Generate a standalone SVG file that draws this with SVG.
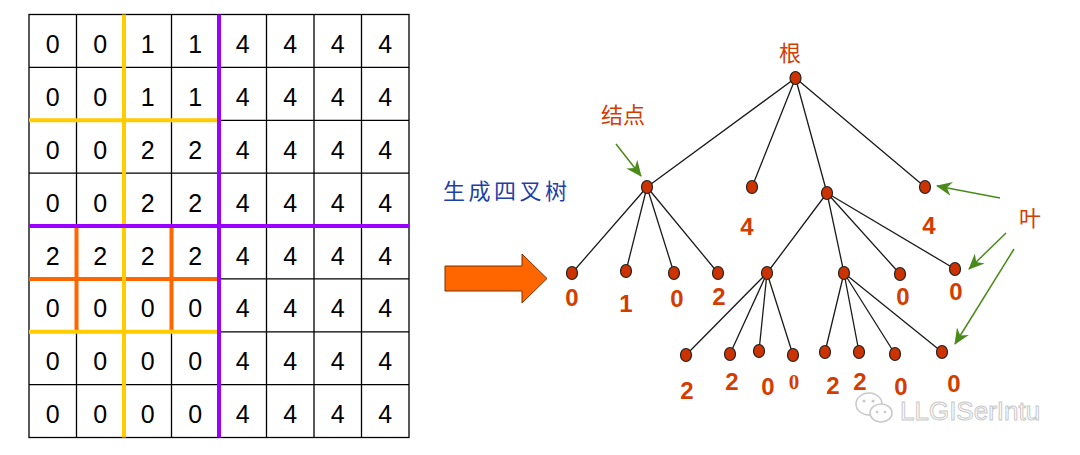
<svg xmlns="http://www.w3.org/2000/svg" width="1080" height="455" viewBox="0 0 1080 455">
<style>
.g{stroke:#000;stroke-width:1.3;fill:none}
.gt{font-family:"Liberation Sans",Arial,sans-serif;font-size:25px;fill:#000;text-anchor:middle}
.ye{stroke:#FFCC00;stroke-width:4}
.pu{stroke:#9900FF;stroke-width:4}
.or{stroke:#FF6600;stroke-width:4}
.nd{fill:#CC3300;stroke:#222;stroke-width:1.2}
.ed{stroke:#1a1a1a;stroke-width:1.3;fill:none}
.num{font-family:"Liberation Sans",Arial,sans-serif;font-weight:bold;font-size:24px;fill:#D43C00;text-anchor:middle}
.cn{font-family:"Noto Sans CJK SC",sans-serif;font-size:22px;fill:#D43C00;text-anchor:middle}
.ga{stroke:#4A8A1A;stroke-width:1.5;fill:none;marker-end:url(#gh)}
</style>
<defs>
<marker id="gh" markerUnits="userSpaceOnUse" markerWidth="18" markerHeight="16" refX="15" refY="7" orient="auto" viewBox="0 0 18 14">
<path d="M0,0 L16,7 L0,14 L5,7 z" fill="#4A8A1A"/>
</marker>
</defs>
<rect width="1080" height="455" fill="#fff"/>
<g id="grid">
<rect class="g" x="29" y="14.5" width="380" height="423"/>
<path class="g" d="M76.5,14.5V437.5M124,14.5V437.5M171.5,14.5V437.5M219,14.5V437.5M266.5,14.5V437.5M314,14.5V437.5M361.5,14.5V437.5M29,67.4H409M29,120.3H409M29,173.1H409M29,226H409M29,278.9H409M29,331.8H409M29,384.6H409"/>
<g class="gt">
<text x="52.75" y="53">0</text><text x="100.25" y="53">0</text><text x="147.75" y="53">1</text><text x="195.25" y="53">1</text><text x="242.75" y="53">4</text><text x="290.25" y="53">4</text><text x="337.75" y="53">4</text><text x="385.25" y="53">4</text>
<text x="52.75" y="105.9">0</text><text x="100.25" y="105.9">0</text><text x="147.75" y="105.9">1</text><text x="195.25" y="105.9">1</text><text x="242.75" y="105.9">4</text><text x="290.25" y="105.9">4</text><text x="337.75" y="105.9">4</text><text x="385.25" y="105.9">4</text>
<text x="52.75" y="158.8">0</text><text x="100.25" y="158.8">0</text><text x="147.75" y="158.8">2</text><text x="195.25" y="158.8">2</text><text x="242.75" y="158.8">4</text><text x="290.25" y="158.8">4</text><text x="337.75" y="158.8">4</text><text x="385.25" y="158.8">4</text>
<text x="52.75" y="211.6">0</text><text x="100.25" y="211.6">0</text><text x="147.75" y="211.6">2</text><text x="195.25" y="211.6">2</text><text x="242.75" y="211.6">4</text><text x="290.25" y="211.6">4</text><text x="337.75" y="211.6">4</text><text x="385.25" y="211.6">4</text>
<text x="52.75" y="264.5">2</text><text x="100.25" y="264.5">2</text><text x="147.75" y="264.5">2</text><text x="195.25" y="264.5">2</text><text x="242.75" y="264.5">4</text><text x="290.25" y="264.5">4</text><text x="337.75" y="264.5">4</text><text x="385.25" y="264.5">4</text>
<text x="52.75" y="317.4">0</text><text x="100.25" y="317.4">0</text><text x="147.75" y="317.4">0</text><text x="195.25" y="317.4">0</text><text x="242.75" y="317.4">4</text><text x="290.25" y="317.4">4</text><text x="337.75" y="317.4">4</text><text x="385.25" y="317.4">4</text>
<text x="52.75" y="370.3">0</text><text x="100.25" y="370.3">0</text><text x="147.75" y="370.3">0</text><text x="195.25" y="370.3">0</text><text x="242.75" y="370.3">4</text><text x="290.25" y="370.3">4</text><text x="337.75" y="370.3">4</text><text x="385.25" y="370.3">4</text>
<text x="52.75" y="423.1">0</text><text x="100.25" y="423.1">0</text><text x="147.75" y="423.1">0</text><text x="195.25" y="423.1">0</text><text x="242.75" y="423.1">4</text><text x="290.25" y="423.1">4</text><text x="337.75" y="423.1">4</text><text x="385.25" y="423.1">4</text>
</g>
<path class="or" d="M76.5,226V331.8M171.5,226V331.8M29,278.9H219"/>
<path class="ye" d="M124,14.5V437.5M29,120.3H219M29,331.8H219"/>
<path class="pu" d="M219,14.5V437.5M29,226H409"/>
</g>
<g id="label-generate">
<text x="443" y="199" style="font-family:'Noto Sans CJK SC',sans-serif;font-size:22px;fill:#1F3FA8;letter-spacing:3.5px">生成四叉树</text>
</g>
<g id="big-arrow">
<path d="M445,266 H522 V254 L547,278.5 L522,303 V291 H445 z" fill="#FF6600" stroke="#7a3000" stroke-width="1"/>
</g>
<g id="connectors">
<path class="ed" d="M795.5,78 L647,187 M795.5,78 L752,187 M795.5,78 L827,193 M795.5,78 L925,187"/>
<path class="ed" d="M647,187 L572,273 M647,187 L626,271 M647,187 L674,273 M647,187 L718,273"/>
<path class="ed" d="M827,193 L767,273 M827,193 L844,273 M827,193 L900,274 M827,193 L955,269"/>
<path class="ed" d="M767,273 L686,355 M767,273 L730,354 M767,273 L759,351 M767,273 L793,355"/>
<path class="ed" d="M844,273 L825,352 M844,273 L859,352 M844,273 L895,354 M844,273 L942,352"/>
<path class="ga" d="M616,144 L641,176"/>
<path class="ga" d="M1000,198 L937,186"/>
<path class="ga" d="M1006,233 L969,269"/>
<path class="ga" d="M1014,249 L955,344"/>
</g>
<g id="root"><ellipse class="nd" cx="795.5" cy="78" rx="5.5" ry="6.5"/><text class="cn" x="790" y="61">根</text></g>
<g id="node-a"><ellipse class="nd" cx="647" cy="187" rx="5.5" ry="6.5"/><text class="cn" x="623" y="123">结点</text></g>
<g id="node-b"><ellipse class="nd" cx="752" cy="187" rx="5.5" ry="6.5"/><text class="num" x="747" y="235">4</text></g>
<g id="node-c"><ellipse class="nd" cx="827" cy="193" rx="5.5" ry="6.5"/></g>
<g id="node-d"><ellipse class="nd" cx="925" cy="187" rx="5.5" ry="6.5"/><text class="num" x="929" y="234">4</text></g>
<g id="leaf-a1"><ellipse class="nd" cx="572" cy="273" rx="5.5" ry="6.5"/><text class="num" x="572" y="306">0</text></g>
<g id="leaf-a2"><ellipse class="nd" cx="626" cy="271" rx="5.5" ry="6.5"/><text class="num" x="626" y="312">1</text></g>
<g id="leaf-a3"><ellipse class="nd" cx="674" cy="273" rx="5.5" ry="6.5"/><text class="num" x="677" y="307">0</text></g>
<g id="leaf-a4"><ellipse class="nd" cx="718" cy="273" rx="5.5" ry="6.5"/><text class="num" x="719" y="305">2</text></g>
<g id="node-e"><ellipse class="nd" cx="767" cy="273" rx="5.5" ry="6.5"/></g>
<g id="node-f"><ellipse class="nd" cx="844" cy="273" rx="5.5" ry="6.5"/></g>
<g id="leaf-c3"><ellipse class="nd" cx="900" cy="274" rx="5.5" ry="6.5"/><text class="num" x="903" y="305">0</text></g>
<g id="leaf-c4"><ellipse class="nd" cx="955" cy="269" rx="5.5" ry="6.5"/><text class="num" x="956" y="300">0</text></g>
<g id="leaf-e1"><ellipse class="nd" cx="686" cy="355" rx="5.5" ry="6.5"/><text class="num" x="687" y="399">2</text></g>
<g id="leaf-e2"><ellipse class="nd" cx="730" cy="354" rx="5.5" ry="6.5"/><text class="num" x="732" y="390">2</text></g>
<g id="leaf-e3"><ellipse class="nd" cx="759" cy="351" rx="5.5" ry="6.5"/><text class="num" x="768" y="395">0</text></g>
<g id="leaf-e4"><ellipse class="nd" cx="793" cy="355" rx="5.5" ry="6.5"/><text x="794" y="389" style="font-family:'Liberation Serif',serif;font-weight:bold;font-size:21px;fill:#D43C00;text-anchor:middle">0</text></g>
<g id="leaf-f1"><ellipse class="nd" cx="825" cy="352" rx="5.5" ry="6.5"/><text class="num" x="833" y="394">2</text></g>
<g id="leaf-f2"><ellipse class="nd" cx="859" cy="352" rx="5.5" ry="6.5"/><text class="num" x="860" y="390">2</text></g>
<g id="leaf-f3"><ellipse class="nd" cx="895" cy="354" rx="5.5" ry="6.5"/><text class="num" x="901" y="395">0</text></g>
<g id="leaf-f4"><ellipse class="nd" cx="942" cy="352" rx="5.5" ry="6.5"/><text class="num" x="954" y="392">0</text></g>
<g id="label-leaf"><text class="cn" x="1030" y="226">叶</text></g>
<g id="watermark" opacity="0.8">
<ellipse cx="869" cy="404" rx="13" ry="11" fill="#fff" stroke="#bbb" stroke-width="1.5"/>
<ellipse cx="881" cy="413" rx="11" ry="9" fill="#fff" stroke="#bbb" stroke-width="1.5"/>
<circle cx="864" cy="401" r="1.5" fill="#bbb"/><circle cx="873" cy="401" r="1.5" fill="#bbb"/>
<circle cx="877" cy="412" r="1.3" fill="#bbb"/><circle cx="885" cy="412" r="1.3" fill="#bbb"/>
<text x="900" y="420" style="font-family:'Liberation Sans',Arial,sans-serif;font-size:26px;fill:#fff;stroke:#bbb;stroke-width:1">LLGISerIntu</text>
</g>
</svg>
